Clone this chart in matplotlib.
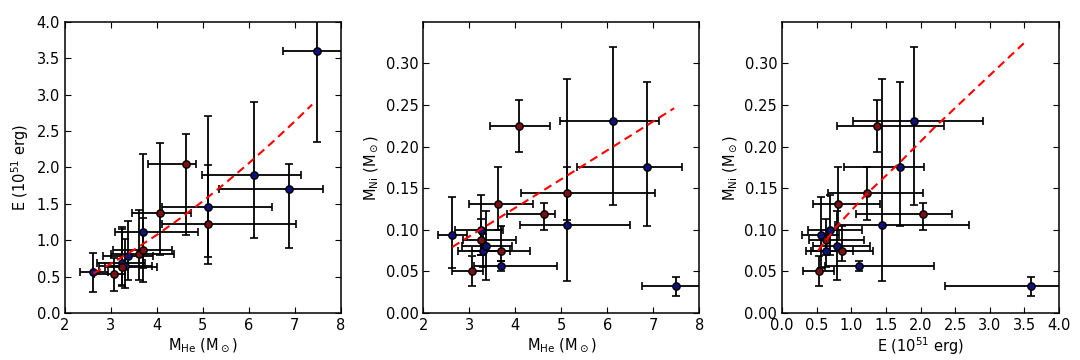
import numpy as np
import matplotlib
matplotlib.use("Agg")
import matplotlib.pyplot as plt

# helium core mass, explosion energy and nickel mass, with asymmetric error ranges
mhe = np.array([2.62, 3.06, 3.25, 3.25, 3.30, 3.37, 3.62, 3.69, 3.69, 4.07, 4.63, 5.12, 5.12, 6.12, 6.87, 7.49])
mhe_lo = np.array([2.32, 2.63, 2.69, 2.87, 2.75, 2.83, 3.00, 3.05, 3.09, 3.45, 3.81, 4.12, 4.11, 4.98, 5.35, 6.75])
mhe_hi = np.array([2.94, 3.30, 3.74, 4.01, 3.89, 3.92, 4.38, 4.32, 4.90, 4.75, 4.86, 7.03, 6.50, 7.13, 7.62, 8.23])

energy = np.array([0.56, 0.53, 0.69, 0.63, 0.64, 0.79, 0.81, 0.86, 1.11, 1.37, 2.04, 1.22, 1.45, 1.90, 1.70, 3.60])
energy_lo = np.array([0.29, 0.31, 0.37, 0.39, 0.35, 0.45, 0.45, 0.42, 0.62, 0.80, 1.07, 0.67, 0.77, 1.03, 0.90, 2.35])
energy_hi = np.array([0.82, 0.75, 1.16, 1.18, 1.02, 1.27, 1.42, 1.31, 2.19, 2.34, 2.46, 2.03, 2.70, 2.90, 2.05, 4.85])

mni = np.array([0.094, 0.050, 0.100, 0.088, 0.075, 0.081, 0.131, 0.075, 0.056, 0.225, 0.119, 0.144, 0.106, 0.231, 0.175, 0.032])
mni_lo = np.array([0.054, 0.032, 0.070, 0.070, 0.055, 0.040, 0.0995, 0.062, 0.050, 0.193, 0.100, 0.112, 0.039, 0.130, 0.104, 0.021])
mni_hi = np.array([0.139, 0.068, 0.142, 0.113, 0.095, 0.123, 0.175, 0.104, 0.062, 0.256, 0.132, 0.176, 0.281, 0.320, 0.277, 0.043])

# marker group: 'b' = dark blue, 'r' = dark red
group = np.array(['b', 'r', 'b', 'r', 'b', 'b', 'r', 'r', 'b', 'r', 'r', 'r', 'b', 'b', 'b', 'b'])

# fitted relations
fit1_x = [2.62, 3.0, 3.5, 4.0, 4.5, 5.0, 5.5, 6.0, 6.5, 7.0, 7.38]
fit1_y = [0.546, 0.678, 0.868, 1.074, 1.297, 1.535, 1.789, 2.056, 2.337, 2.631, 2.863]
fit2_x = [2.63, 5.12, 7.45]
fit2_y = [0.0794, 0.165, 0.246]
fit3_x = [0.52, 0.81, 1.22, 1.69, 2.19, 2.8, 3.49]
fit3_y = [0.075, 0.106, 0.143, 0.180, 0.222, 0.27, 0.324]

plt.rcParams['font.family'] = ['DejaVu Sans']
plt.rcParams['mathtext.default'] = 'regular'
plt.rcParams['xtick.direction'] = 'in'
plt.rcParams['ytick.direction'] = 'in'
plt.rcParams['xtick.top'] = True
plt.rcParams['ytick.right'] = True
plt.rcParams['xtick.major.size'] = 4
plt.rcParams['ytick.major.size'] = 4
plt.rcParams['font.size'] = 10.5

colors = {'b': '#10107a', 'r': '#7a1010'}

fig = plt.figure(figsize=(10.8, 3.6), dpi=100)
ax1 = fig.add_axes([0.0602, 0.1303, 0.2552, 0.8095])
ax2 = fig.add_axes([0.3920, 0.1303, 0.2556, 0.8095])
ax3 = fig.add_axes([0.7241, 0.1303, 0.2565, 0.8095])


def panel(ax, x, xlo, xhi, y, ylo, yhi, fx, fy):
    ax.errorbar(x, y, xerr=[x - xlo, xhi - x], yerr=[y - ylo, yhi - y], fmt='none',
                ecolor='k', elinewidth=1.3, capsize=3, capthick=1.2, zorder=2)
    for g in ['b', 'r']:
        m = group == g
        ax.scatter(x[m], y[m], s=28, c=colors[g], edgecolors='k', linewidths=1.0, zorder=3)
    ax.plot(fx, fy, color='r', linestyle='--', dashes=(4, 2.5), linewidth=1.5, zorder=4)
    for s in ax.spines.values():
        s.set_linewidth(1.1)


panel(ax1, mhe, mhe_lo, mhe_hi, energy, energy_lo, energy_hi, fit1_x, fit1_y)
ax1.set_xlim(2, 8)
ax1.set_ylim(0, 4)
ax1.set_xticks(np.arange(2, 9, 1))
ax1.set_yticks(np.arange(0, 4.01, 0.5))
ax1.yaxis.set_major_formatter(matplotlib.ticker.FormatStrFormatter('%.1f'))
ax1.set_xlabel(r'M$_{\rm He}$ (M$_\odot$)', labelpad=2)
ax1.set_ylabel(r'E (10$^{51}$ erg)', labelpad=4)

panel(ax2, mhe, mhe_lo, mhe_hi, mni, mni_lo, mni_hi, fit2_x, fit2_y)
ax2.set_xlim(2, 8)
ax2.set_ylim(0, 0.35)
ax2.set_xticks(np.arange(2, 9, 1))
ax2.set_yticks(np.arange(0, 0.31, 0.05))
ax2.yaxis.set_major_formatter(matplotlib.ticker.FormatStrFormatter('%.2f'))
ax2.set_xlabel(r'M$_{\rm He}$ (M$_\odot$)', labelpad=2)
ax2.set_ylabel(r'M$_{\rm Ni}$ (M$_\odot$)', labelpad=4)

panel(ax3, energy, energy_lo, energy_hi, mni, mni_lo, mni_hi, fit3_x, fit3_y)
ax3.set_xlim(0, 4)
ax3.set_ylim(0, 0.35)
ax3.set_xticks(np.arange(0, 4.01, 0.5))
ax3.set_yticks(np.arange(0, 0.31, 0.05))
ax3.xaxis.set_major_formatter(matplotlib.ticker.FormatStrFormatter('%.1f'))
ax3.yaxis.set_major_formatter(matplotlib.ticker.FormatStrFormatter('%.2f'))
ax3.set_xlabel(r'E (10$^{51}$ erg)', labelpad=2)
ax3.set_ylabel(r'M$_{\rm Ni}$ (M$_\odot$)', labelpad=4)

fig.savefig('out.png', dpi=100)
